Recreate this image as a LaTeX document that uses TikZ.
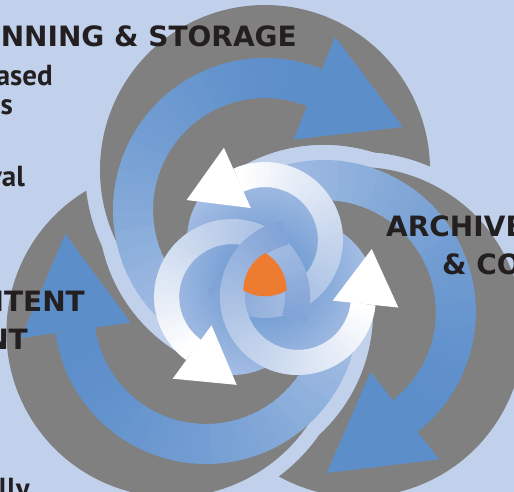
\documentclass[tikz,border=0pt]{standalone}
\usepackage{fontspec}
\setmainfont{PT Sans}
\newfontfamily\headfont{DejaVu Sans}
\usepackage{xcolor}
\usetikzlibrary{positioning}

\definecolor{bgblue}{RGB}{193,209,236}
\definecolor{bladegray}{RGB}{128,128,128}
\definecolor{banddark}{RGB}{92,142,202}
\definecolor{bandlight}{RGB}{182,202,234}
\definecolor{ringblue}{RGB}{128,162,214}
\definecolor{coredark}{RGB}{92,142,203}
\definecolor{corelight}{RGB}{182,201,234}
\definecolor{coreorange}{RGB}{238,124,48}
\definecolor{inktext}{RGB}{35,31,32}

\tikzset{
    heading/.style={font=\headfont\bfseries\fontsize{28}{28}\selectfont, text=inktext, inner sep=0pt},
    body/.style={font=\bfseries\fontsize{29}{29}\selectfont, text=inktext, inner sep=0pt},
    gap/.style={bgblue, line width=15pt}
}

% one blade of the wheel, drawn upright; rotated copies give the others
\newcommand{\blade}{%
    \fill[bgblue] (0,108) circle (180);
    \draw[gap] ([shift={(0,68)}]150:159.5) arc[start angle=150, end angle=260, radius=159.5];
    \fill[bladegray] (0,108) circle (165);
    \foreach \a in {0,4,...,184}{
        \pgfmathtruncatemacro\p{100*(\a/187)*sqrt(\a/187)}
        \pgfmathsetmacro\s{68+\a}
        \pgfmathsetmacro\e{73+\a}
        \draw[bandlight!\p!banddark, line width=40pt] ([shift={(0,68)}]\s:132) arc[start angle=\s, end angle=\e, radius=132];
    }
    \fill[banddark] ([shift={(0,68)}]68:187) -- ([shift={(0,68)}]31:161) -- ([shift={(0,68)}]68:76) -- cycle;
}

% everything outside the outline of an upright blade
\newcommand{\outside}{%
    (-600,-600) -- (-600,600) -- (600,600) -- (600,-600) -- cycle
    ([shift={(0,108)}]262.2:180) arc[start angle=262.2, end angle=565.1, radius=180]
    -- ([shift={(0,68)}]192.6:167) arc[start angle=192.6, end angle=260, radius=167]
    -- ([shift={(0,68)}]260:140.5) -- cycle
}

% one inner ring, fading from white at the head to blue at the tail
\newcommand{\ring}{%
    \foreach \a in {0,4,...,248}{
        \pgfmathtruncatemacro\p{\a/2.5}
        \pgfmathsetmacro\s{114-\a}
        \pgfmathsetmacro\e{109-\a}
        \draw[ringblue!\p!white, line width=25pt] ([shift={(0,38)}]\s:65.5) arc[start angle=\s, end angle=\e, radius=65.5];
    }
}

\begin{document}
\begin{tikzpicture}[x=1pt, y=1pt]

\fill[bgblue] (-265,-214) rectangle (249,278);
\useasboundingbox (-265,-214) rectangle (249,278);

% blades: each one is kept out of the outline of the blade lying over it
\foreach \k in {0,1,2}{
    \begin{scope}
        \pgfmathtruncatemacro\m{mod(\k+2,3)}
        \clip[rotate=120*\m] \outside;
        \begin{scope}[rotate=120*\k]\blade\end{scope}
    \end{scope}
}

% core
\begin{scope}
    \clip (90:38) circle (78) (210:38) circle (78) (330:38) circle (78);
    \shade[inner color=coredark, outer color=corelight] (0,0) circle (125);
\end{scope}
\foreach \k in {0,1,2}{
    \begin{scope}[rotate=120*\k]\ring\end{scope}
}
\foreach \k in {0,1,2}{
    \fill[white, rotate=120*\k] ([shift={(0,38)}]114:101) -- ([shift={(0,38)}]153:88) -- ([shift={(0,38)}]114:35) -- cycle;
}
\fill[coreorange] (90:25) arc[start angle=120, end angle=180, radius=43.3]
    arc[start angle=240, end angle=300, radius=43.3]
    arc[start angle=0, end angle=60, radius=43.3] -- cycle;

% labels
\node[heading, anchor=base east] (planning)   at (32,231)   {NNING \& STORAGE};
\node[body, anchor=base east]    (based)      at (-212,192) {ased};
\node[body, anchor=base east]    (tools)      at (-252,163) {s};
\node[body, anchor=base east]    (retrieval)  at (-240,91)  {val};
\node[heading, anchor=base west] (archive)    at (121,41)   {ARCHIVE};
\node[heading, anchor=base west] (compliance) at (177,3)    {\& CO};
\node[heading, anchor=base east] (content)    at (-180,-34) {NTENT};
\node[heading, anchor=base east] (management) at (-237,-72) {NT};
\node[body, anchor=base east]    (usually)    at (-235,-220) {lly};

\end{tikzpicture}
\end{document}
